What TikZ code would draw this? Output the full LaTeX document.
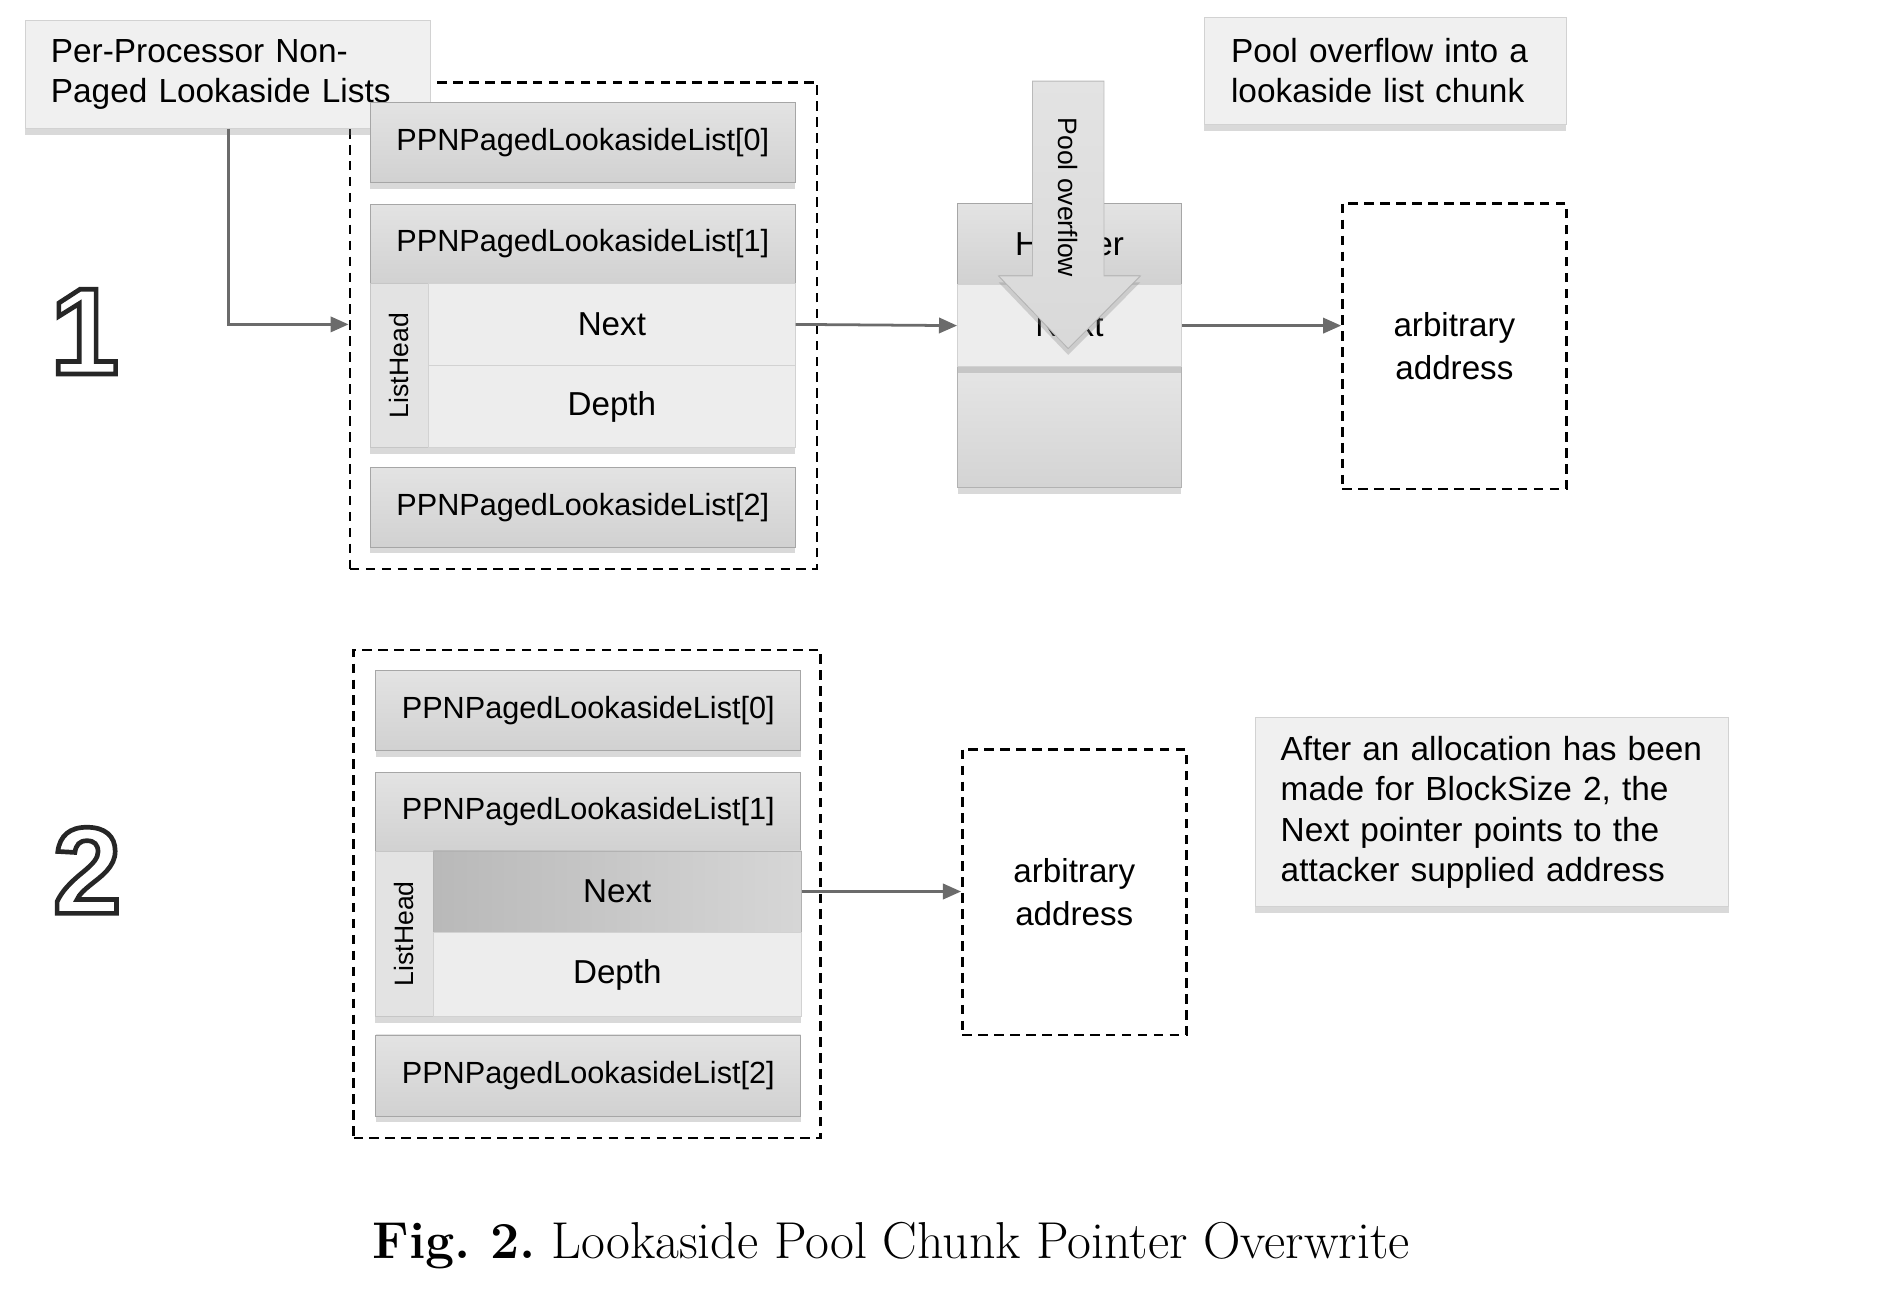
\documentclass[tikz,border=0pt]{standalone}
\usepackage{fontspec}
\usepackage{graphicx}
\newfontfamily\arialfont{Liberation Sans}
\usetikzlibrary{arrows.meta,shadows,calc}
\newcommand\hollowdigit[1]{\special{pdf:literal direct 1 Tr 2.2 w}#1\special{pdf:literal direct 0 Tr}}

\begin{document}
\begin{tikzpicture}[x=0.02cm,y=-0.02cm,
    shd/.style={drop shadow={shadow xshift=0pt,shadow yshift=-3pt,opacity=0.3}},
    ppn/.style={shd,draw=gray!70,top color=gray!22,bottom color=gray!36,minimum width=7.02cm,minimum height=1.32cm,inner sep=0pt,font=\arialfont\fontsize{14.4}{17}\selectfont},
    fld/.style={shd,draw=gray!35,fill=gray!14,minimum width=6.06cm,minimum height=1.36cm,inner sep=0pt,font=\arialfont\fontsize{15.6}{18}\selectfont},
    hot/.style={fld,draw=gray!60,left color=gray!55,right color=gray!32},
    lhead/.style={shd,draw=gray!45,fill=gray!22,minimum width=0.96cm,inner sep=0pt,font=\arialfont\fontsize{12.5}{14}\selectfont},
    callout/.style={shd,draw=gray!35,fill=gray!12,align=left,inner xsep=0.42cm,inner ysep=0pt,font=\arialfont\fontsize{15.7}{19}\selectfont},
    dashbox/.style={draw,dash pattern=on 4.5pt off 3pt,line width=1.2pt,align=center,font=\arialfont\fontsize{15.6}{20}\selectfont},
    ptr/.style={draw=black!58,line width=1.3pt,-{Triangle[length=8.5pt,width=7.2pt]}},
    digit/.style={text=black!85,font=\arialfont\bfseries\fontsize{58}{60}\selectfont}]
\useasboundingbox (0,0) rectangle (1568,1087);

% step 1
\node[dashbox,minimum width=7.72cm,minimum height=8.04cm] (frame1) at (482,269) {};
\node[callout,text width=5.86cm,minimum height=1.78cm] (perproc) at (188.5,61.5) {Per-Processor Non-\\Paged Lookaside Lists};
\node[digit] (one) at (70,274) {\hollowdigit{1}};
\node[ppn] (lla0) at (481.5,118) {PPNPagedLookasideList[0]};
\node[ppn,minimum height=1.3cm] (lla1) at (481.5,201.5) {PPNPagedLookasideList[1]};
\node[lhead,minimum height=2.72cm] (lh1) at (330,302) {\rotatebox{90}{ListHead}};
\node[fld] (nx1) at (505.5,268) {Next};
\node[fld] (dp1) at (505.5,336) {Depth};
\node[ppn] (lla2) at (481.5,419) {PPNPagedLookasideList[2]};

% overflowed chunk
\node[shd,draw=gray!60,top color=gray!20,bottom color=gray!34,minimum width=3.7cm,minimum height=2cm] (cbody) at (883.5,353) {};
\node[ppn,minimum width=3.7cm,minimum height=1.34cm,font=\arialfont\fontsize{15.6}{18}\selectfont] (chdr) at (883.5,201.5) {Header};
\node[fld,minimum width=3.7cm] (cnext) at (883.5,269) {Next};
\filldraw[shd,draw=gray!55,top color=gray!22,bottom color=gray!30] (853,67) -- (912,67) -- (912,228) -- (942,228) -- (882.5,288) -- (825,228) -- (853,228) -- cycle;
\node[rotate=-90,font=\arialfont\fontsize{12.5}{14}\selectfont] (ovf) at (882.5,163) {Pool overflow};
\node[callout,text width=5.1cm,inner xsep=0.44cm,minimum height=1.78cm] (intochunk) at (1144.5,58.5) {Pool overflow into a\\lookaside list chunk};
\node[dashbox,minimum width=3.7cm,minimum height=4.72cm] (arb1) at (1201.5,286) {arbitrary\\address};

\draw[ptr] (perproc.south) |- (frame1.west |- nx1);
\draw[ptr] (nx1.east) -- (cnext.west);
\draw[ptr] (cnext.east) -- (cnext.east -| arb1.west);

% step 2
\node[dashbox,minimum width=7.72cm,minimum height=8.06cm] (frame2) at (485,738.5) {};
\node[digit] (two) at (72,719) {\hollowdigit{2}};
\node[ppn] (llb0) at (486,587) {PPNPagedLookasideList[0]};
\node[ppn,minimum height=1.3cm] (llb1) at (486,670.5) {PPNPagedLookasideList[1]};
\node[lhead,minimum height=2.74cm] (lh2) at (334,771.5) {\rotatebox{90}{ListHead}};
\node[hot,minimum width=6.08cm,minimum height=1.34cm] (nx2) at (510,736.5) {Next};
\node[fld,minimum width=6.08cm,minimum height=1.4cm] (dp2) at (510,805) {Depth};
\node[ppn,minimum height=1.34cm] (llb2) at (486,888.5) {PPNPagedLookasideList[2]};
\node[dashbox,minimum width=3.7cm,minimum height=4.72cm] (arb2) at (887.5,737) {arbitrary\\address};
\node[callout,text width=6.98cm,minimum height=3.12cm] (afteralloc) at (1232.5,671) {After an allocation has been\\made for BlockSize 2, the\\Next pointer points to the\\attacker supplied address};

\draw[ptr] (nx2.east) -- (nx2.east -| arb2.west);

\node (caption) at (736,1029) {\fontsize{24.4}{28}\selectfont\frenchspacing\textbf{Fig.~2.} Lookaside Pool Chunk Pointer Overwrite};
\end{tikzpicture}
\end{document}
